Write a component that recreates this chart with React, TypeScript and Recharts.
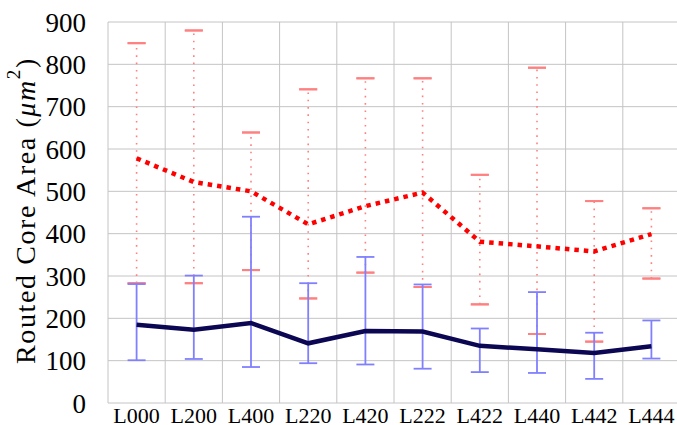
import React from 'react';
import { LineChart, Line, XAxis, YAxis, CartesianGrid, ErrorBar, Label } from 'recharts';

const categories = ['L000', 'L200', 'L400', 'L220', 'L420', 'L222', 'L422', 'L440', 'L442', 'L444'];
const redMean = [578, 522, 500, 422, 465, 497, 381, 370, 358, 399];
const redHigh = [850, 880, 639, 741, 767, 767, 539, 792, 477, 460];
const redLow = [283, 283, 314, 247, 308, 274, 233, 163, 145, 294];
const blueMean = [185, 173, 189, 141, 170, 169, 135, 127, 118, 134];
const blueHigh = [281, 301, 440, 283, 345, 280, 176, 262, 166, 195];
const blueLow = [101, 104, 85, 94, 91, 81, 73, 71, 57, 105];
const yTicks = [0, 100, 200, 300, 400, 500, 600, 700, 800, 900];

const data = categories.map((c, i) => ({
  name: c,
  red: redMean[i],
  redErr: [redMean[i] - redLow[i], redHigh[i] - redMean[i]],
  redHighCap: [redMean[i] - redHigh[i], redHigh[i] - redMean[i]],
  redLowCap: [redMean[i] - redLow[i], redLow[i] - redMean[i]],
  blue: blueMean[i],
  blueErr: [blueMean[i] - blueLow[i], blueHigh[i] - blueMean[i]],
}));

const FONT = 'Liberation Serif, DejaVu Serif, serif';

const YLabel = (props: any) => {
  const vb = props.viewBox || { x: 0, y: 0, width: 0, height: 0 };
  const cx = vb.x + 25;
  const cy = vb.y + vb.height / 2 - 2;
  return (
    <text
      x={cx}
      y={cy}
      transform={`rotate(-90, ${cx}, ${cy})`}
      textAnchor="middle"
      dominantBaseline="central"
      style={{ fontFamily: FONT, letterSpacing: 1.6 }}
      fontSize={28}
      fill="#000"
    >
      <tspan>Routed Core Area (</tspan>
      <tspan fontStyle="italic">μm</tspan>
      <tspan fontSize={19} dy={-12}>2</tspan>
      <tspan dy={12}>)</tspan>
    </text>
  );
};

export default function App() {
  const gridX = ({ offset }: any) =>
    Array.from({ length: categories.length + 1 }, (_, i) => offset.left + (i * offset.width) / categories.length);
  return (
    <div style={{ position: 'fixed', left: 0, top: 0, width: 677, height: 425, overflow: 'hidden', background: '#fff', fontFamily: FONT }}>
      <LineChart width={690} height={425} data={data} margin={{ top: 22, right: 10, left: 0, bottom: 0 }}>
        <CartesianGrid stroke="#c4c4c4" strokeWidth={1} verticalCoordinatesGenerator={gridX} />
        <XAxis
          dataKey="name"
          scale="band"
          axisLine={false}
          tickLine={false}
          tickSize={0}
          tickMargin={4}
          height={22}
          interval={0}
          tick={{ fontFamily: FONT, fontSize: 22, fill: '#000' }}
        />
        <YAxis
          type="number"
          domain={[0, 900]}
          ticks={yTicks}
          interval={0}
          axisLine={false}
          tickLine={false}
          tickSize={0}
          tickMargin={22}
          width={108}
          tick={{ fontFamily: FONT, fontSize: 27, fill: '#000' }}
        >
          <Label content={<YLabel />} />
        </YAxis>
        <Line
          dataKey="red"
          stroke="#ff0000"
          strokeWidth={4.5}
          strokeDasharray="4.5 5"
          dot={false}
          isAnimationActive={false}
        >
          <ErrorBar dataKey="redErr" width={0} stroke="#ff8080" strokeWidth={1.6} strokeDasharray="1.6 5.7" />
          <ErrorBar dataKey="redHighCap" width={9} stroke="#ff8080" strokeWidth={2} />
          <ErrorBar dataKey="redLowCap" width={9} stroke="#ff8080" strokeWidth={2} />
        </Line>
        <Line dataKey="blue" stroke="#0b0752" strokeWidth={4.5} dot={false} isAnimationActive={false}>
          <ErrorBar dataKey="blueErr" width={9} stroke="#8080ff" strokeWidth={1.8} />
        </Line>
      </LineChart>
    </div>
  );
}
